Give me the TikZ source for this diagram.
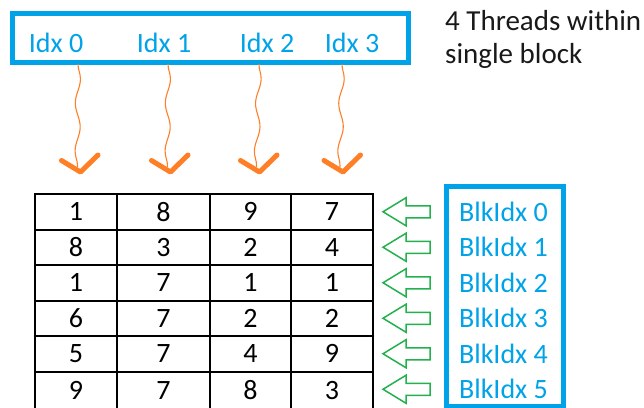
\documentclass[tikz,border=0pt]{standalone}
\usepackage{fontspec}
\setmainfont{Carlito}
\usetikzlibrary{decorations.pathmorphing}
\definecolor{cblue}{RGB}{0,162,232}
\definecolor{corange}{RGB}{255,127,39}
\definecolor{cgreen}{RGB}{34,177,76}
\begin{document}
\begin{tikzpicture}[x=1pt,y=-1pt,
  bluebox/.style={draw=cblue, line width=5pt, inner sep=0pt},
  bluetxt/.style={text=cblue, font=\fontsize{28}{34}\selectfont, inner sep=0pt, anchor=base},
  cell/.style={draw=black, line width=2pt, inner sep=0pt, font=\fontsize{28}{34}\selectfont, minimum height=35.5pt},
  wave/.style={draw=corange, line width=1.1pt, decorate, decoration={snake, amplitude=2.5pt, segment length=48pt}},
  tick/.style={draw=corange, line width=5pt, line cap=round, line join=round},
  hollowarrow/.style={draw=cgreen, line width=1.5pt, line join=miter},
  note/.style={anchor=base west, inner sep=0pt, font=\fontsize{29}{35}\selectfont, text=black!90}
]
\useasboundingbox (0,0) rectangle (644,407);
% thread box
\node[bluebox, minimum width=396pt, minimum height=49pt] (threads) at (210.5,38) {};
\foreach \i/\x in {0/56,1/164,2/267,3/352}
  \node[bluetxt] (idx\i) at (\x,52) {Idx \i};
\node[note] (note1) at (445,30) {4 Threads within};
\node[note] (note2) at (445,63) {single block};
% waves and ticks
\foreach \i/\ws/\vx in {0/78/80.5,1/168/170.5,2/259/259.5,3/342/343}{
  \coordinate (w\i) at (\ws,64);
  \coordinate (v\i) at (\vx,172);
  \coordinate (we\i) at ([xshift=-3pt,yshift=5pt]v\i);
  \draw[wave] (w\i) -- (we\i);
  \draw[tick] (v\i) ++(-19,-11.5) -- (v\i) -- ++(17.5,-17);
}
% table
\foreach \r/\a/\b/\cc/\d in {0/1/8/9/7,1/8/3/2/4,2/1/7/1/1,3/6/7/2/2,4/5/7/4/9,5/9/7/8/3}{
  \pgfmathsetmacro{\yc}{211.75+35.5*\r}
  \pgfmathsetmacro{\hh}{\r==5 ? 37.5 : 35.5}
  \pgfmathsetmacro{\ys}{\r==5 ? \yc+1 : \yc}
  \node[cell, minimum width=82pt, minimum height=\hh pt] (c\r-0) at (76,\ys) {\a};
  \node[cell, minimum width=93pt, minimum height=\hh pt] (c\r-1) at (163.5,\ys) {\b};
  \node[cell, minimum width=81pt, minimum height=\hh pt] (c\r-2) at (250.5,\ys) {\cc};
  \node[cell, minimum width=82pt, minimum height=\hh pt] (c\r-3) at (332,\ys) {\d};
}
% block box
\node[bluebox, minimum width=117pt, minimum height=220pt] (blocks) at (504.5,296) {};
\foreach \r in {0,...,5}{
  \pgfmathsetmacro{\yc}{211.75+35.5*\r}
  \pgfmathsetmacro{\yb}{\yc+9.5}
  \node[bluetxt] (blk\r) at (503.5,\yb) {BlkIdx \r};
  \coordinate (a\r) at (383,\yc);
  \draw[hollowarrow] (a\r) -- ++(23,-14) -- ++(0,8) -- ++(24,0) -- ++(0,12) -- ++(-24,0) -- ++(0,8) -- cycle;
}
\end{tikzpicture}
\end{document}
